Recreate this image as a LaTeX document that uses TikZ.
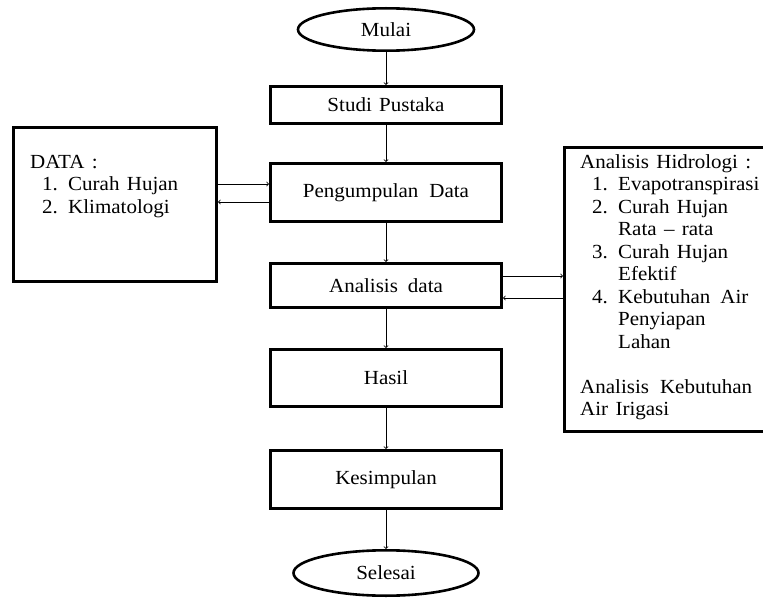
\documentclass[tikz,border=0pt]{standalone}
\usepackage{fontspec}
\setmainfont{Liberation Serif}[FakeStretch=1.05, WordSpace=1.4]
\usetikzlibrary{positioning,shapes.geometric}
\newcommand{\itm}[1]{\hspace*{12pt}\makebox[26pt][l]{#1}}
\newcommand{\cont}{\hspace*{38pt}}

\begin{document}
\begin{tikzpicture}[x=1pt, y=1pt, node distance=39pt, auto,
  font=\fontsize{20}{22.5}\selectfont,
  box/.style={draw, line width=2.6pt, minimum width=231.4pt},
  terminal/.style={draw, ellipse, line width=2.6pt, minimum width=176pt, minimum height=42.4pt},
  link/.style={->, line width=0.8pt}]
  \useasboundingbox (0,0) rectangle (763,-599);

  \node[terminal] (mulai) at (386,-29.5) {Mulai};
  \node[box, minimum height=37.4pt, below=33pt of mulai](studi){Studi Pustaka};
  \node[box, minimum height=58.4pt, below=37pt of studi](pengumpulan){Pengumpulan\hspace{11pt}Data};
  \node[box, minimum height=44.4pt, below=of pengumpulan](analisis){Analisis\hspace{10pt}data};
  \node[box, minimum height=57.4pt, below=of analisis](hasil){Hasil};
  \node[box, minimum height=58.4pt, below=41pt of hasil](kesimpulan){Kesimpulan};
  \node[terminal, minimum width=185pt, minimum height=45.4pt, below=of kesimpulan](selesai){Selesai};

  \node[box, minimum width=203.4pt, minimum height=154.4pt, left=51pt of pengumpulan, yshift=-12pt](data){};
  \node[anchor=north west, align=left, inner sep=0pt] (datalist) at (30,-155)
    {DATA :\\ \itm{1.}Curah Hujan\\ \itm{2.}Klimatologi};

  \node[box, minimum width=206pt, minimum height=284.4pt, right=60pt of analisis, yshift=-4pt](hidrologi){};
  \node[anchor=north west, align=left, inner sep=0pt] (hidrolist) at (580,-154)
    {Analisis Hidrologi :\\
     \itm{1.}Evapotranspirasi\\
     \itm{2.}Curah Hujan\\
     \cont Rata -- rata\\
     \itm{3.}Curah Hujan\\
     \cont Efektif\\
     \itm{4.}Kebutuhan\hspace{10pt}Air\\
     \cont Penyiapan\\
     \cont Lahan\\[22.5pt]
     Analisis\hspace{11pt}Kebutuhan\\
     Air Irigasi};

  \draw[link] (mulai) -- (studi);
  \draw[link] (studi) -- (pengumpulan);
  \draw[link] (pengumpulan) -- (analisis);
  \draw[link] (analisis) -- (hasil);
  \draw[link] (hasil) -- (kesimpulan);
  \draw[link] (kesimpulan) -- (selesai);

  \draw[link] ([yshift=8.5pt]pengumpulan.west -| data.east) -- ([yshift=8.5pt]pengumpulan.west);
  \draw[link] ([yshift=-9.5pt]pengumpulan.west) -- ([yshift=-9.5pt]pengumpulan.west -| data.east);
  \draw[link] ([yshift=9.5pt]analisis.east) -- ([yshift=9.5pt]analisis.east -| hidrologi.west);
  \draw[link] ([yshift=-12.5pt]analisis.east -| hidrologi.west) -- ([yshift=-12.5pt]analisis.east);
\end{tikzpicture}
\end{document}
